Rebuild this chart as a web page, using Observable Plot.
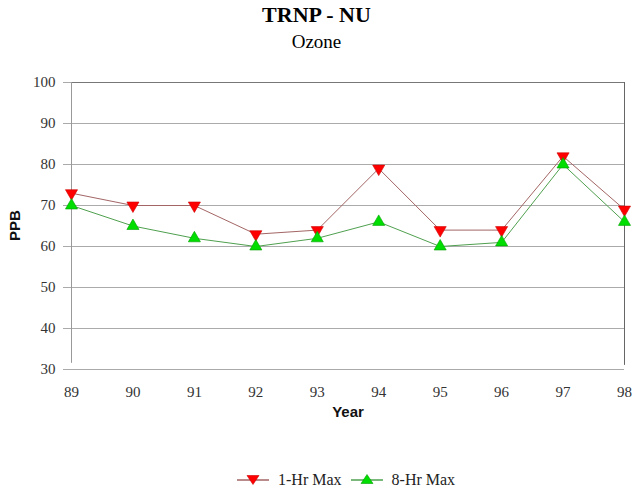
<!DOCTYPE html>
<html><head><meta charset="utf-8">
<script src="https://cdn.jsdelivr.net/npm/d3@7"></script>
<script src="https://cdn.jsdelivr.net/npm/@observablehq/plot@0.6"></script>
<style>
body{margin:0;background:#fff;}
#wrap{position:relative;width:633px;height:491px;overflow:hidden;}
#title{position:absolute;left:0;top:3px;width:633px;text-align:center;font-family:"Liberation Serif","Times New Roman",serif;font-weight:bold;font-size:22px;line-height:24px;color:#000;}
#sub{position:absolute;left:0;top:31px;width:633px;text-align:center;font-family:"Liberation Serif","Times New Roman",serif;font-size:19px;line-height:22px;color:#000;}
#chart{position:absolute;left:0;top:58px;}
#legend{position:absolute;left:237px;top:470px;height:20px;display:flex;align-items:center;font-family:"Liberation Serif","Times New Roman",serif;font-size:16px;color:#222;}
#legend .item{display:flex;align-items:center;margin-right:9px;}
#legend svg{margin-right:9px;}
</style></head>
<body>
<div id="wrap">
  <div id="title"></div>
  <div id="sub"></div>
  <div id="chart"></div>
  <div id="legend"></div>
</div>
<script>
const titleText = "TRNP - NU";
const subtitleText = "Ozone";
const years = [89, 90, 91, 92, 93, 94, 95, 96, 97, 98];
const oneHrMax = [73, 70, 70, 63, 64, 79, 64, 64, 82, 69];
const eightHrMax = [70, 65, 62, 60, 62, 66, 60, 61, 80, 66];
const yTicks = [30, 40, 50, 60, 70, 80, 90, 100];
const seriesNames = ["1-Hr Max", "8-Hr Max"];
const lineColors = ["#a36565", "#4fa04f"];
const markerFill = ["#ff0000", "#00dd00"];
const markerStroke = ["#cc0000", "#00a000"];

document.getElementById("title").textContent = titleText;
document.getElementById("sub").textContent = subtitleText;

const data = years.flatMap((yr, i) => [
  {year: yr, value: oneHrMax[i], series: seriesNames[0]},
  {year: yr, value: eightHrMax[i], series: seriesNames[1]}
]);

const seriesMarks = (k) => [
  Plot.line(data, {filter: d => d.series === seriesNames[k], x: "year", y: "value", stroke: lineColors[k], strokeWidth: 1})
];
const dotMarks = (k, rot) => [
  Plot.dot(data, {filter: d => d.series === seriesNames[k], x: "year", y: "value", symbol: "triangle", rotate: rot, r: 4.5, fill: markerFill[k], stroke: markerStroke[k], strokeWidth: 0.6})
];

const chart = Plot.plot({
  width: 633, height: 370,
  marginLeft: 71, marginRight: 9, marginTop: 24, marginBottom: 59,
  style: {fontFamily: "'Liberation Serif', 'Times New Roman', serif", fontSize: "15px", color: "#222", background: "#fff", overflow: "visible"},
  x: {domain: [89, 98], label: null},
  y: {domain: [30, 100], label: null},
  marks: [
    Plot.gridY(yTicks.filter(v => v > 30 && v < 100), {stroke: "#ababab", strokeOpacity: 1}),
    Plot.ruleY([100], {stroke: "#777", strokeOpacity: 1}),
    Plot.ruleY([30], {stroke: "#aaa"}),
    Plot.ruleX([89], {stroke: "#999", y1: 31.5, y2: 100}),
    Plot.ruleX([98], {stroke: "#666", y1: 31, y2: 100}),
    Plot.axisY({ticks: yTicks, tickSize: 8, tickPadding: 8, stroke: "#aaa", fill: "#333", fontSize: 15, label: null}),
    Plot.axisX({ticks: years, tickSize: 0, tickPadding: 17, tickFormat: d => String(d), fill: "#333", fontSize: 15, label: null}),
    Plot.text(["Year"], {frameAnchor: "bottom", dy: 47, fontFamily: "'Liberation Sans', Arial, sans-serif", fontWeight: "bold", fontSize: 15, fill: "#111"}),
    Plot.text(["PPB"], {frameAnchor: "left", dx: -56, dy: 15, rotate: -90, fontFamily: "'Liberation Sans', Arial, sans-serif", fontWeight: "bold", fontSize: 15, fill: "#111"}),
    ...seriesMarks(0), ...seriesMarks(1),
    ...dotMarks(0, 180), ...dotMarks(1, 0)
  ]
});
document.getElementById("chart").appendChild(chart);

const legend = document.getElementById("legend");
seriesNames.forEach((name, k) => {
  const item = document.createElement("div");
  item.className = "item";
  const pts = k === 0 ? "10,3 22,3 16,12" : "10,12 22,12 16,3";
  item.innerHTML = `<svg width="32" height="16"><line x1="0" x2="32" y1="8" y2="8" stroke="${lineColors[k]}" stroke-width="1.5"/><polygon points="${pts}" transform="translate(0,${k===0?0.5:-0.5})" fill="${markerFill[k]}" stroke="${markerStroke[k]}" stroke-width="0.6"/></svg><span>${name}</span>`;
  legend.appendChild(item);
});
</script>
</body></html>
